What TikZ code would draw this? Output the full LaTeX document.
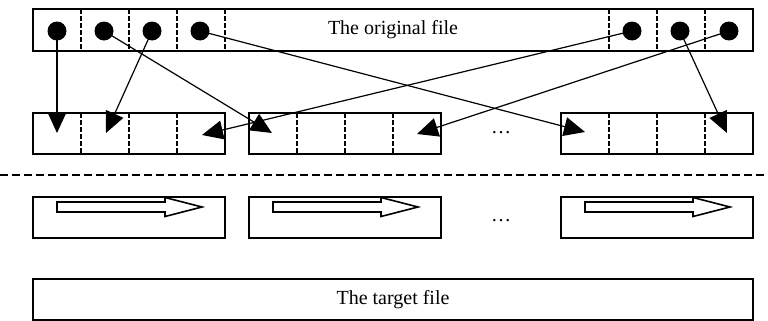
\documentclass[tikz,border=0pt]{standalone}
\usepackage{fontspec}
\setmainfont{Liberation Serif}
\usetikzlibrary{arrows.meta}

\begin{document}
\begin{tikzpicture}[x=0.5pt,y=-0.5pt,
  box/.style={draw,line width=0.8pt,minimum height=20.5pt,inner sep=0pt},
  cellline/.style={line width=0.8pt,dash pattern=on 2.3pt off 1.2pt},
  dot/.style={circle,fill=black,minimum size=9.5pt,inner sep=0pt},
  move/.style={line width=0.6pt,-{Triangle[length=10.5pt,width=9.5pt]}}]
  \useasboundingbox (0,0) rectangle (768,321);
  % the original file
  \node[box,minimum width=360pt,minimum height=21pt] (orig) at (393,30) {The original file};
  \foreach \x in {81,129,177,225,609,657,705}
    \draw[cellline] (\x,9) -- (\x,51);
  % blocks read from it
  \node[box,minimum width=96pt] (m1) at (129,133.5) {};
  \node[box,minimum width=96pt] (m2) at (345,133.5) {};
  \node[box,minimum width=96pt] (m3) at (657,133.5) {};
  \node (mdots) at (501,133) {\ldots};
  \foreach \x in {81,129,177,297,345,393,609,657,705}
    \draw[cellline] (\x,113) -- (\x,154);
  % records
  \node[dot] (d1) at (57,31) {};
  \node[dot] (d2) at (104,31) {};
  \node[dot] (d3) at (152,31) {};
  \node[dot] (d4) at (200,31) {};
  \node[dot] (d5) at (632,31) {};
  \node[dot] (d6) at (680,31) {};
  \node[dot] (d7) at (729,31) {};
  \coordinate (t1) at (57,133);
  \coordinate (t2) at (106,133);
  \coordinate (t3) at (272,133);
  \coordinate (t4) at (585,132);
  \coordinate (t5) at (202,135);
  \coordinate (t6) at (417,134);
  \coordinate (t7) at (727,133);
  \draw[move] (d1.center) -- (t1);
  \draw[move] (d3.center) -- (t2);
  \draw[move] (d2.center) -- (t3);
  \draw[move] (d4.center) -- (t4);
  \draw[move] (d5.center) -- (t5);
  \draw[move] (d7.center) -- (t6);
  \draw[move] (d6.center) -- (t7);
  % separator
  \coordinate (sepl) at (0,175);
  \coordinate (sepr) at (768,175);
  \draw[line width=0.8pt,dash pattern=on 4pt off 2pt] (sepl) -- (sepr);
  % sorted blocks
  \node[box,minimum width=96pt] (b1) at (129,217.5) {};
  \node[box,minimum width=96pt] (b2) at (345,217.5) {};
  \node[box,minimum width=96pt] (b3) at (657,217.5) {};
  \node (bdots) at (501,221) {\ldots};
  \foreach \l in {33,249,561}
    \draw[line width=0.8pt] (\l+24,202) -- (\l+132,202) -- (\l+132,197.5) -- (\l+169,207)
      -- (\l+132,216.5) -- (\l+132,212) -- (\l+24,212) -- cycle;
  % the target file
  \node[box,minimum width=360pt] (target) at (393,299.5) {The target file};
\end{tikzpicture}
\end{document}
